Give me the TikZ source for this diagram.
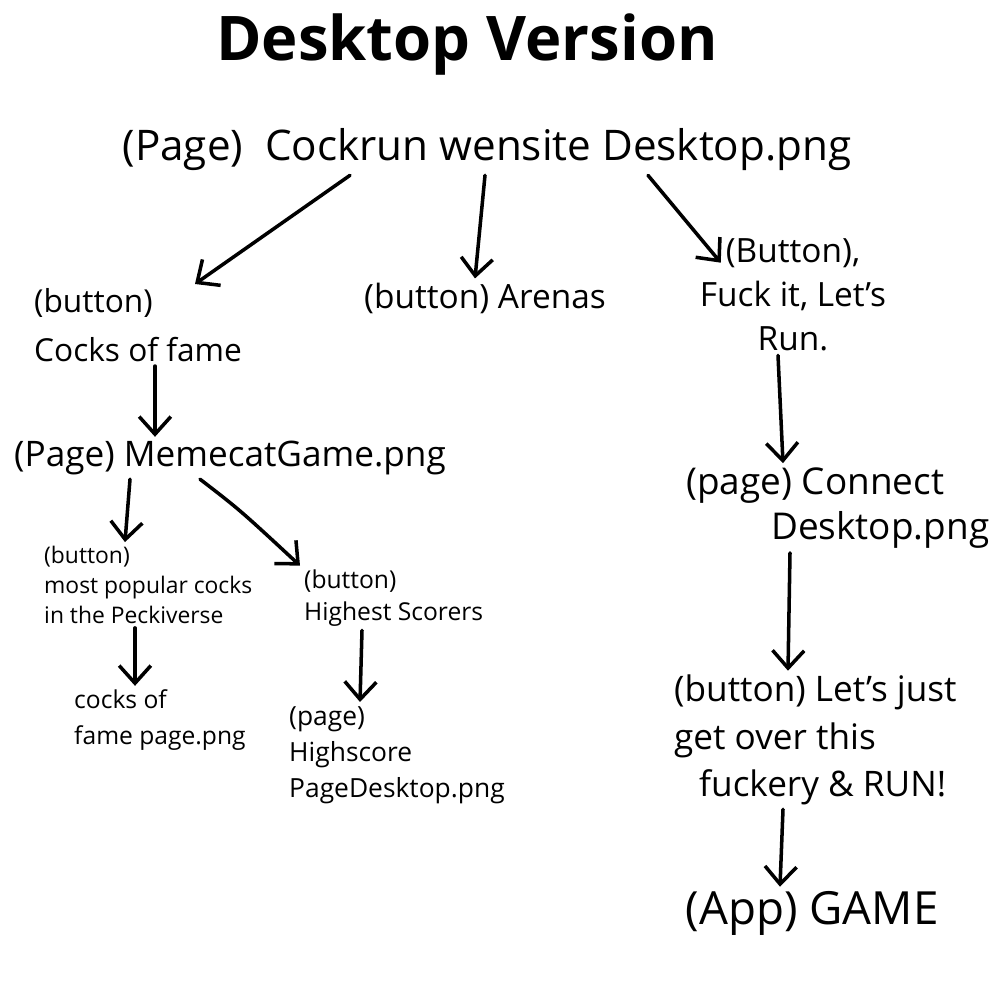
\documentclass[tikz,border=0pt]{standalone}
\usepackage{fontspec}
\setmainfont{Open Sans}
\usetikzlibrary{arrows.meta}
\begin{document}
\begin{tikzpicture}[x=0.01cm,y=-0.01cm,
  lbl/.style={inner sep=1pt, text=black},
  arr/.style={draw=black, line width=1pt, line cap=round, -{Straight Barb[length=5pt,width=9pt,line width=1pt]}}]
\useasboundingbox[fill=white] (0,0) rectangle (1000,1000);
\node[lbl, font=\fontsize{17.5}{21}\selectfont\bfseries] (title) at (467,45) {Desktop Version};
\node[lbl, font=\fontsize{12}{14}\selectfont] (top) at (487,150) {(Page)\ \ Cockrun wensite Desktop.png};
\node[lbl, font=\fontsize{9}{14}\selectfont, align=left, anchor=west] (cof) at (30,325) {(button)\\Cocks of fame};
\node[lbl, font=\fontsize{9.5}{12}\selectfont] (arenas) at (485,298) {(button) Arenas};
\node[lbl, font=\fontsize{9.5}{12.5}\selectfont, align=center] (fuck) at (793,295) {(Button),\\Fuck it, Let's\\Run.};
\node[lbl, font=\fontsize{10}{13}\selectfont, anchor=west] (meme) at (10,458) {(Page) MemecatGame.png};
\node[lbl, font=\fontsize{6.5}{8.5}\selectfont, align=left, anchor=west] (mpc) at (40,585) {(button)\\most popular cocks\\in the Peckiverse};
\node[lbl, font=\fontsize{7}{9}\selectfont, align=left, anchor=west] (hs) at (300,598) {(button)\\Highest Scorers};
\node[lbl, font=\fontsize{7}{10}\selectfont, align=left, anchor=west] (cofp) at (70,720) {cocks of\\fame page.png};
\node[lbl, font=\fontsize{7.5}{10.3}\selectfont, align=left, anchor=west] (hsp) at (285,755) {(page)\\Highscore\\PageDesktop.png};
\node[lbl, font=\fontsize{10.5}{13}\selectfont, align=left, anchor=west] (conn) at (682,508) {(page) Connect\\\hspace*{0.85cm}Desktop.png};
\node[lbl, font=\fontsize{10}{13.5}\selectfont, align=left, anchor=west] (lets) at (670,740) {(button) Let's just\\get over this\\\hspace*{0.25cm}fuckery \& RUN!};
\node[lbl, font=\fontsize{13}{15}\selectfont] (game) at (812,913) {(App) GAME};

\draw[arr] (top.south -| 350,0) -- (cof.north -| 195,0);
\draw[arr] (top.south -| 485,0) -- (arenas.north -| 475,0);
\draw[arr] (top.south -| 648,0) -- ([xshift=0.25cm,yshift=-0.28cm]fuck.north west);
\draw[arr] (cof.south -| 155,0) -- (meme.north -| 155,0);
\draw[arr] (meme.south -| 130,0) -- (mpc.north -| 125,0);
\draw[arr] (meme.south -| 200,0) .. controls (240,510) .. (hs.north west);
\draw[arr] (mpc.south -| 135,0) -- (cofp.north -| 135,0);
\draw[arr] (hs.south -| 362,0) -- (hsp.north -| 360,0);
\draw[arr] (fuck.south -| 778,0) -- (conn.north -| 783,0);
\draw[arr] (conn.south -| 790,0) -- (lets.north -| 788,0);
\draw[arr] (lets.south -| 783,0) -- (game.north -| 780,0);
\end{tikzpicture}
\end{document}
